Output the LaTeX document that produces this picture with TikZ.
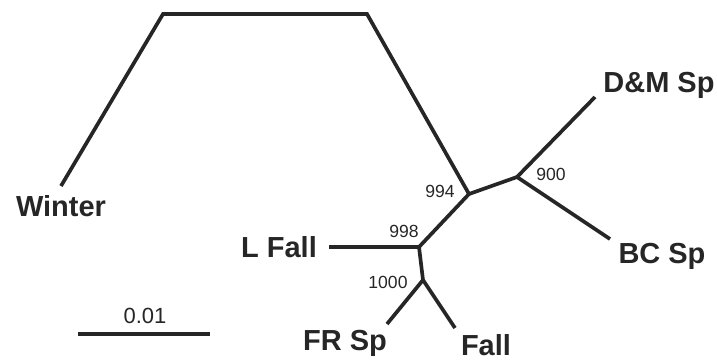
\documentclass[tikz,border=0pt]{standalone}
\usepackage{fontspec}
\setmainfont{Liberation Sans}

\begin{document}
\begin{tikzpicture}[x=0.02cm,y=-0.02cm,
	branch/.style={line width=2.1pt,black!85},
	taxon/.style={font=\bfseries\fontsize{16.5}{18}\selectfont,text=black!85,anchor=base,inner sep=0pt},
	boot/.style={font=\fontsize{10}{12}\selectfont,text=black!85,anchor=base,inner sep=0pt}]
	\useasboundingbox (0,0) rectangle (717,360);

	% internal nodes of the tree
	\coordinate (n994) at (469,194);
	\coordinate (n900) at (517,177);
	\coordinate (n998) at (419,247);
	\coordinate (n1000) at (423,280);
	\coordinate (bendL) at (163,14);
	\coordinate (bendR) at (367,14);

	% branch tips
	\coordinate (tWinter) at (61,186);
	\coordinate (tLFall) at (329,247);
	\coordinate (tFRSp) at (387,324);
	\coordinate (tFall) at (455,328);
	\coordinate (tDMSp) at (595,97);
	\coordinate (tBCSp) at (610,239);

	\draw[branch] (tWinter) -- (bendL) -- (bendR) -- (n994);
	\draw[branch] (n994) -- (n900);
	\draw[branch] (n900) -- (tDMSp);
	\draw[branch] (n900) -- (tBCSp);
	\draw[branch] (n994) -- (n998);
	\draw[branch] (n998) -- (tLFall);
	\draw[branch] (n998) -- (n1000);
	\draw[branch] (n1000) -- (tFRSp);
	\draw[branch] (n1000) -- (tFall);

	\node[taxon] (lWinter) at (61,216) {Winter};
	\node[taxon] (lLFall) at (279,257) {L Fall};
	\node[taxon] (lFRSp) at (345,350) {FR Sp};
	\node[taxon] (lFall) at (486,355) {Fall};
	\node[taxon] (lDMSp) at (659,92) {D\&M Sp};
	\node[taxon] (lBCSp) at (662,263) {BC Sp};

	\node[boot] (b994) at (440,197) {994};
	\node[boot] (b900) at (551,180) {900};
	\node[boot] (b998) at (404,237) {998};
	\node[boot] (b1000) at (388,288) {1000};

	% scale bar
	\coordinate (sL) at (78,334);
	\coordinate (sR) at (210,334);
	\draw[branch] (sL) -- (sR);
	\node[boot,font=\fontsize{12.5}{14}\selectfont] (sLabel) at (145,323) {0.01};
\end{tikzpicture}
\end{document}
